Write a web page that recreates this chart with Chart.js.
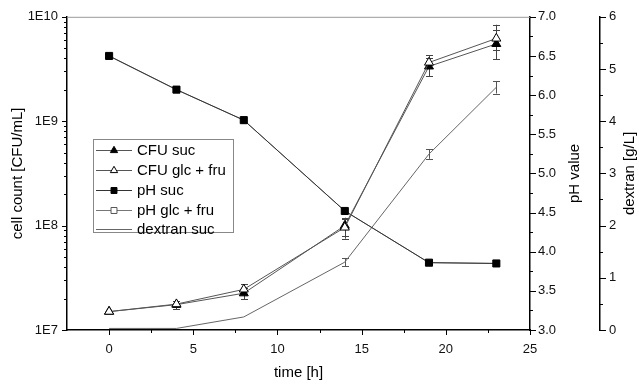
<!DOCTYPE html>
<html><head><meta charset="utf-8">
<script src="https://cdn.jsdelivr.net/npm/chart.js@4/dist/chart.umd.min.js"></script>
<style>html,body{margin:0;padding:0;background:#fff}#wrap{width:639px;height:385px}</style>
</head><body><div id="wrap"><canvas id="c" width="639" height="385"></canvas></div>
<script>
// ---- data ----
const timeH = [0, 4, 8, 14, 19, 23];
const cfuSuc = [1.5e7, 1.75e7, 2.25e7, 1.0e8, 3.35e9, 5.5e9];
const cfuSucLow = [null, 1.58e7, 1.97e7, 7.5e7, 2.7e9, 3.9e9];
const cfuSucHigh = [null, 1.9e7, 2.5e7, 1.15e8, 4.0e9, 7.5e9];
const cfuGlcFru = [1.5e7, 1.77e7, 2.45e7, 9.6e7, 3.65e9, 6.2e9];
const cfuGlcFruLow = [null, 1.65e7, 2.2e7, 8.0e7, 3.2e9, 4.8e9];
const cfuGlcFruHigh = [null, 1.9e7, 2.75e7, 1.19e8, 4.26e9, 8.4e9];
const phSuc = [6.50, 6.07, 5.68, 4.52, 3.86, 3.85];
const phGlcFru = [6.50, 6.07, 5.68, 4.52, 3.86, 3.85];
const dextranSuc = [0.03, 0.03, 0.25, 1.30, 3.37, 4.65];
const dextranErr = [0, 0, 0, 0.08, 0.09, 0.12];
const xTicks = [0, 5, 10, 15, 20, 25];
const yTicks = [1e7, 1e8, 1e9, 1e10];
const labels = {
  cfuSuc: 'CFU suc', cfuGlc: 'CFU glc + fru', phSuc: 'pH suc', phGlc: 'pH glc + fru', dex: 'dextran suc',
  x: 'time [h]', y: 'cell count [CFU/mL]', ph: 'pH value', dexAxis: 'dextran [g/L]'
};

const FONT = '"Liberation Sans", Arial, sans-serif';
const pts = arr => arr.map((v, i) => ({x: timeH[i], y: v}));

const errorBars = {
  id: 'errorBars',
  beforeDatasetsDraw(chart) {
    const ctx = chart.ctx, xs = chart.scales.x;
    ctx.save();
    ctx.lineWidth = 1;
    const drawBar = (scale, px, lo, hi, color) => {
      const y1 = scale.getPixelForValue(lo), y2 = scale.getPixelForValue(hi);
      ctx.strokeStyle = color;
      ctx.beginPath();
      ctx.moveTo(px + 0.5, y1); ctx.lineTo(px + 0.5, y2);
      ctx.moveTo(px - 3, Math.round(y1) + 0.5); ctx.lineTo(px + 4, Math.round(y1) + 0.5);
      ctx.moveTo(px - 3, Math.round(y2) + 0.5); ctx.lineTo(px + 4, Math.round(y2) + 0.5);
      ctx.stroke();
    };
    timeH.forEach((t, i) => {
      const px = Math.round(xs.getPixelForValue(t));
      if (cfuSucLow[i] != null) drawBar(chart.scales.y, px, cfuSucLow[i], cfuSucHigh[i], '#444');
      if (cfuGlcFruLow[i] != null) drawBar(chart.scales.y, px, cfuGlcFruLow[i], cfuGlcFruHigh[i], '#444');
      if (dextranErr[i] > 0) drawBar(chart.scales.yDex, px, dextranSuc[i] - dextranErr[i], dextranSuc[i] + dextranErr[i], '#555');
    });
    ctx.restore();
  }
};

const deco = {
  id: 'deco',
  afterDraw(chart) {
    const ctx = chart.ctx, a = chart.chartArea;
    const xs = chart.scales.x, ys = chart.scales.y, ps = chart.scales.yPH, ds = chart.scales.yDex;
    ctx.save();
    const line = (x1, y1, x2, y2) => { ctx.beginPath(); ctx.moveTo(x1, y1); ctx.lineTo(x2, y2); ctx.stroke(); };
    // top frame
    ctx.strokeStyle = '#999'; ctx.lineWidth = 1;
    line(a.left, a.top + 0.5, a.right, a.top + 0.5);
    ctx.strokeStyle = '#000'; ctx.lineWidth = 1;
    // x ticks
    for (let v = 0; v <= 25; v += 2.5) {
      const px = Math.round(xs.getPixelForValue(v)) + 0.5;
      line(px, a.bottom, px, a.bottom + (v % 5 === 0 ? 5 : 3));
    }
    // left log ticks
    for (let e = 7; e <= 10; e++) {
      for (let m = 1; m <= 9; m++) {
        if (e === 10 && m > 1) break;
        const py = Math.round(ys.getPixelForValue(m * Math.pow(10, e))) + 0.5;
        line(a.left - (m === 1 ? 5 : 3), py, a.left, py);
      }
    }
    // pH ticks
    for (let k = 0; k <= 16; k++) {
      const v = 3 + k * 0.25;
      const py = Math.round(ps.getPixelForValue(v)) + 0.5;
      line(ps.left, py, ps.left + (k % 2 === 0 ? 6 : 3), py);
    }
    // dextran ticks
    for (let k = 0; k <= 12; k++) {
      const v = k * 0.5;
      const py = Math.round(ds.getPixelForValue(v)) + 0.5;
      line(ds.left, py, ds.left + (k % 2 === 0 ? 6 : 3), py);
    }
    // axis titles
    ctx.fillStyle = '#000';
    ctx.font = '15px ' + FONT;
    ctx.textAlign = 'center'; ctx.textBaseline = 'middle';
    const cy = (a.top + a.bottom) / 2;
    ctx.fillText(labels.x, (a.left + a.right) / 2, 373);
    const vtext = (txt, x) => { ctx.save(); ctx.translate(x, cy); ctx.rotate(-Math.PI / 2); ctx.fillText(txt, 0, 0); ctx.restore(); };
    vtext(labels.y, 18);
    vtext(labels.ph, 575);
    vtext(labels.dexAxis, 630);
    // legend
    ctx.strokeStyle = '#888'; ctx.lineWidth = 1;
    ctx.strokeRect(93.5, 139.5, 140, 93);
    const rows = [
      {ds: 1, y: 150}, {ds: 0, y: 170}, {ds: 2, y: 190}, {ds: 3, y: 210}, {ds: 4, y: 229}
    ];
    rows.forEach(r => {
      const d = chart.data.datasets[r.ds];
      ctx.strokeStyle = d.borderColor; ctx.lineWidth = 1;
      line(96, r.y + 0.5, 132, r.y + 0.5);
      if (d.pointRadius > 0) {
        ctx.fillStyle = d.pointBackgroundColor; ctx.strokeStyle = d.pointBorderColor;
        Chart.helpers.drawPoint(ctx, {pointStyle: d.pointStyle, radius: 4.2, borderWidth: 1, rotation: 0}, 114, r.y + 0.5);
      }
      ctx.fillStyle = '#000';
      ctx.textAlign = 'left'; ctx.textBaseline = 'middle';
      ctx.fillText(d.label, 137, r.y + 1);
    });
    ctx.restore();
  }
};

new Chart(document.getElementById('c'), {
  type: 'line',
  data: {
    datasets: [
      {label: labels.cfuGlc, data: pts(cfuGlcFru), yAxisID: 'y', order: 0, borderColor: '#555', borderWidth: 1,
       pointStyle: 'triangle', pointRadius: 5.2, pointBackgroundColor: '#fff', pointBorderColor: '#000', pointBorderWidth: 1},
      {label: labels.cfuSuc, data: pts(cfuSuc), yAxisID: 'y', order: 1, borderColor: '#555', borderWidth: 1,
       pointStyle: 'triangle', pointRadius: 5.2, pointBackgroundColor: '#000', pointBorderColor: '#000', pointBorderWidth: 1},
      {label: labels.phSuc, data: pts(phSuc), yAxisID: 'yPH', order: 2, borderColor: '#333', borderWidth: 1,
       pointStyle: 'rect', pointRadius: 5, pointBackgroundColor: '#000', pointBorderColor: '#000', pointBorderWidth: 1},
      {label: labels.phGlc, data: pts(phGlcFru), yAxisID: 'yPH', order: 3, borderColor: '#777', borderWidth: 1,
       pointStyle: 'rect', pointRadius: 4, pointBackgroundColor: '#fff', pointBorderColor: '#555', pointBorderWidth: 1},
      {label: labels.dex, data: pts(dextranSuc), yAxisID: 'yDex', order: 4, borderColor: '#666', borderWidth: 1,
       pointRadius: 0}
    ]
  },
  options: {
    responsive: false, animation: false, devicePixelRatio: 1,
    layout: {padding: {top: 15, left: 0, right: 0, bottom: 0}},
    elements: {line: {tension: 0}},
    plugins: {legend: {display: false}, tooltip: {enabled: false}},
    scales: {
      x: {type: 'linear', position: 'bottom', min: -2.5, max: 25,
          afterBuildTicks: s => { s.ticks = xTicks.map(v => ({value: v})); },
          afterFit: s => { s.height = 55; },
          grid: {display: false, drawTicks: false},
          border: {display: true, color: '#000', width: 1.5},
          ticks: {padding: 12, color: '#111', font: {family: FONT, size: 13}, maxRotation: 0, callback: v => String(v)}},
      y: {type: 'logarithmic', position: 'left', min: 1e7, max: 1e10,
          afterBuildTicks: s => { s.ticks = yTicks.map(v => ({value: v})); },
          afterFit: s => { s.width = 67; },
          grid: {display: false, drawTicks: false},
          border: {display: true, color: '#000', width: 1.5},
          ticks: {padding: 9, color: '#111', font: {family: FONT, size: 13},
                  callback: v => '1E' + Math.round(Math.log10(v))}},
      yPH: {type: 'linear', position: 'right', weight: 1, min: 3, max: 7,
          afterBuildTicks: s => { const t = []; for (let k = 0; k <= 8; k++) t.push({value: 3 + k * 0.5}); s.ticks = t; },
          afterFit: s => { s.width = 70; },
          grid: {display: false, drawTicks: false},
          border: {display: true, color: '#000', width: 1.5},
          ticks: {padding: 8, color: '#111', font: {family: FONT, size: 13}, callback: v => Number(v).toFixed(1)}},
      yDex: {type: 'linear', position: 'right', weight: 2, min: 0, max: 6,
          afterBuildTicks: s => { const t = []; for (let k = 0; k <= 6; k++) t.push({value: k}); s.ticks = t; },
          afterFit: s => { s.width = 39; },
          grid: {display: false, drawTicks: false},
          border: {display: true, color: '#000', width: 1.5},
          ticks: {padding: 9, color: '#111', font: {family: FONT, size: 13}, callback: v => String(v)}}
    }
  },
  plugins: [errorBars, deco]
});
</script>
</body></html>
